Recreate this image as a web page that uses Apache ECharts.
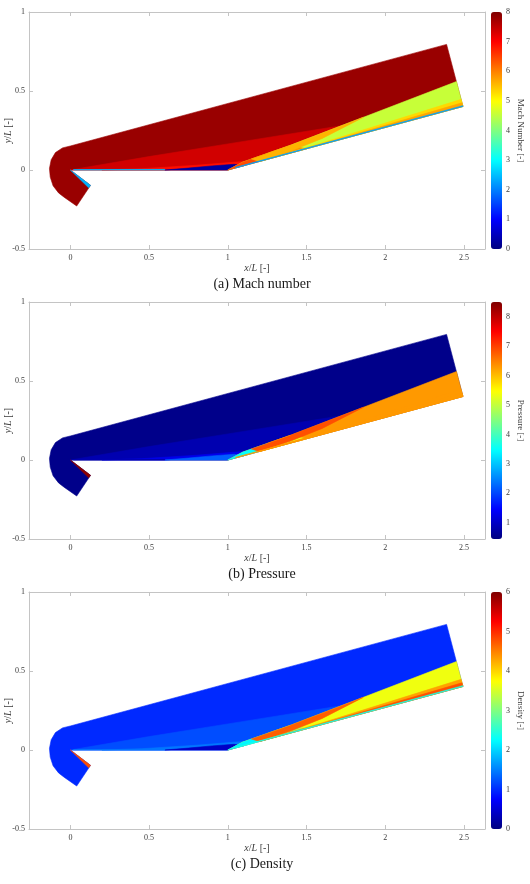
<!DOCTYPE html>
<html>
<head>
<meta charset="utf-8">
<script src="https://cdn.jsdelivr.net/npm/echarts@6.0.0/dist/echarts.min.js"></script>
<style>
html, body { margin: 0; padding: 0; background: #fff; }
#chart { width: 530px; height: 884px; }
</style>
</head>
<body>
<div id="chart"></div>
<script>
// tick labels
var xTicks = [0, 0.5, 1, 1.5, 2, 2.5];
var yTicks = [-0.5, 0, 0.5, 1];
var machTicks = [0, 1, 2, 3, 4, 5, 6, 7, 8];
var pressureTicks = [1, 2, 3, 4, 5, 6, 7, 8];
var densityTicks = [0, 1, 2, 3, 4, 5, 6];

// flow regions, vertices in x/L, y/L
var domainPoly = [[0, 0], [1, 0], [2.494, 0.402], [2.39, 0.795], [0, 0.152], [-0.05, 0.14], [-0.095, 0.11],
    [-0.122, 0.065], [-0.133, 0.01], [-0.128, -0.045], [-0.11, -0.1], [-0.075, -0.145], [-0.04, -0.172],
    [0.04, -0.228], [0.128, -0.097]];
var postShockPoly = [[0, 0], [0.5, 0.085], [1.0, 0.165], [1.72, 0.28], [1.395, 0.155], [1.095, 0.05], [1.0, 0]];
var plateLayerPoly = [[0.2, 0], [0.6, 0], [0.75, 0.012], [0.9, 0.026], [1.04, 0.036], [1.1, 0.027], [1.2, 0.06],
    [1.05, 0.05], [0.8, 0.03], [0.45, 0.008]];
var bubblePoly = [[0.6, 0], [1.0, 0], [1.1, 0.027], [1.04, 0.036], [0.9, 0.026], [0.75, 0.012]];
var rampPoly = [[1.0, 0], [1.095, 0.05], [1.395, 0.155], [2.453, 0.56], [2.494, 0.402]];
var fan1Poly = [[1.0, 0], [1.095, 0.05], [1.25, 0.104], [1.2, 0.054]];
var fan2Poly = [[1.2, 0.054], [1.25, 0.104], [1.395, 0.155], [1.5, 0.134]];
var sliverPoly = [[1.15, 0.07], [1.395, 0.155], [1.86, 0.333], [1.6, 0.2], [1.4, 0.12], [1.2, 0.054]];
var bandOuterPoly = [[1.2, 0.054], [2.494, 0.402], [2.482, 0.447], [1.6, 0.172]];
var bandInnerPoly = [[1.2, 0.054], [2.494, 0.402], [2.487, 0.425], [1.6, 0.166]];
var rampWallPoly = [[1.05, 0.013], [2.494, 0.402], [2.493, 0.407], [1.05, 0.017]];
var plateWallPoly = [[0.02, 0], [0.6, 0], [0.6, 0.004], [0.02, 0.003]];
var wedgePoly = [[0, 0], [0.128, -0.097], [0.116, -0.113]];

var cells = [domainPoly, postShockPoly, plateLayerPoly, bubblePoly, rampPoly, fan1Poly, fan2Poly,
    sliverPoly, bandOuterPoly, bandInnerPoly, rampWallPoly, plateWallPoly, wedgePoly];

// field value in each region, same order as cells
var machValues     = [7.8, 7.36, 6.9, 0.25, 4.56, 6.4, 5.9, 5.6, 5.3, 5.7, 2.25, 2.4, 2.4];
var pressureValues = [0.53, 0.83, 1.3, 2.2, 6.29, 3.5, 5.3, 6.87, 6.29, 6.29, 6.29, 0.83, 8.4];
var densityValues  = [0.99, 1.2, 1.45, 0.42, 3.66, 2.2, 3.2, 4.7, 4.3, 4.78, 2.4, 1.45, 4.8];

var jet = ['#000080', '#0000ff', '#0080ff', '#00ffff', '#80ff80', '#ffff00', '#ff8000', '#ff0000', '#800000'];

var panels = [
    { values: machValues, min: 0, max: 8, ticks: machTicks, bar: 'Mach Number [-]', caption: '(a) Mach number' },
    { values: pressureValues, min: 0.45, max: 8.5, ticks: pressureTicks, bar: 'Pressure [-]', caption: '(b) Pressure' },
    { values: densityValues, min: 0, max: 6, ticks: densityTicks, bar: 'Density [-]', caption: '(c) Density' }
];

var font = 'Liberation Serif';
var frameColor = '#c4c4c4';
var textColor = '#3a3a3a';
var italic = { i: { fontStyle: 'italic', fontFamily: font, fontSize: 10, color: textColor } };

var chart = echarts.init(document.getElementById('chart'));

var option = {
    animation: false,
    grid: [],
    xAxis: [],
    yAxis: [],
    visualMap: [],
    series: [],
    graphic: []
};

panels.forEach(function (p, i) {
    var top = 12 + 290 * i;
    option.grid.push({ left: 29, top: top, width: 456, height: 237, containLabel: false, outerBoundsMode: 'none' });
    option.grid.push({ left: 491, top: top, width: 11, height: 237, containLabel: false, outerBoundsMode: 'none' });

    var frame = { show: true, onZero: false, lineStyle: { color: frameColor, width: 1 } };
    option.xAxis.push({
        gridIndex: 2 * i, type: 'value', min: -0.263, max: 2.634, position: 'bottom',
        axisLine: frame,
        axisTick: { inside: true, length: 4, customValues: xTicks, lineStyle: { color: frameColor } },
        axisLabel: { customValues: xTicks, fontFamily: font, fontSize: 8, color: textColor, margin: 5 },
        splitLine: { show: false },
        name: '{i|x}/{i|L} [-]', nameLocation: 'middle', nameGap: 14, nameMoveOverlap: false,
        nameTextStyle: { fontFamily: font, fontSize: 10, color: textColor, rich: italic }
    });
    option.xAxis.push({
        gridIndex: 2 * i, type: 'value', min: -0.263, max: 2.634, position: 'top',
        axisLine: frame,
        axisTick: { inside: true, length: 4, customValues: xTicks, lineStyle: { color: frameColor } },
        axisLabel: { show: false },
        splitLine: { show: false }
    });
    option.xAxis.push({ gridIndex: 2 * i + 1, type: 'value', min: 0, max: 1, show: false });

    option.yAxis.push({
        gridIndex: 2 * i, type: 'value', min: -0.5, max: 1, interval: 0.5, position: 'left',
        axisLine: frame,
        axisTick: { inside: true, length: 4, lineStyle: { color: frameColor } },
        axisLabel: { fontFamily: font, fontSize: 8, color: textColor, margin: 4 },
        splitLine: { show: false },
        name: '{i|y}/{i|L} [-]', nameLocation: 'middle', nameGap: 16, nameRotate: 90, nameMoveOverlap: false,
        nameTextStyle: { fontFamily: font, fontSize: 10, color: textColor, rich: italic }
    });
    option.yAxis.push({
        gridIndex: 2 * i, type: 'value', min: -0.5, max: 1, interval: 0.5, position: 'right',
        axisLine: frame,
        axisTick: { inside: true, length: 4, lineStyle: { color: frameColor } },
        axisLabel: { show: false },
        splitLine: { show: false }
    });
    option.yAxis.push({
        gridIndex: 2 * i + 1, type: 'value', min: p.min, max: p.max, position: 'right',
        axisLine: { show: false },
        axisTick: { show: false },
        axisLabel: { customValues: p.ticks, fontFamily: font, fontSize: 8, color: textColor, margin: 4 },
        splitLine: { show: false },
        name: p.bar, nameLocation: 'middle', nameGap: 14, nameRotate: -90, nameMoveOverlap: false,
        nameTextStyle: { fontFamily: font, fontSize: 9, color: textColor }
    });

    option.visualMap.push({
        type: 'continuous', seriesIndex: i, dimension: 1,
        min: p.min, max: p.max, calculable: false, text: null, showLabel: false,
        orient: 'vertical', left: 491, top: top, itemWidth: 11, itemHeight: 237, padding: 0,
        inRange: { color: jet }
    });

    option.series.push({
        type: 'custom',
        xAxisIndex: 3 * i, yAxisIndex: 3 * i,
        silent: true,
        data: p.values.map(function (v, k) { return [k, v]; }),
        renderItem: function (params, api) {
            var pts = cells[api.value(0)].map(function (pt) { return api.coord(pt); });
            var c = api.visual('color');
            return {
                type: 'polygon',
                shape: { points: pts },
                style: { fill: c, stroke: c, lineWidth: 0.6 }
            };
        }
    });

    option.graphic.push({
        type: 'text', x: 262, y: top + 272,
        style: { text: p.caption, font: '14px "Liberation Serif"', fill: '#1a1a1a',
                 textAlign: 'center', textVerticalAlign: 'middle' }
    });
});

chart.setOption(option);
</script>
</body>
</html>
